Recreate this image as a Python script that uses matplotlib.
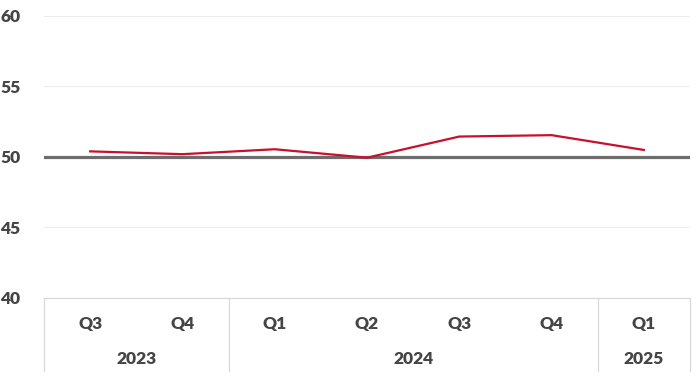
import matplotlib.pyplot as plt
import matplotlib.transforms as mtransforms

quarters = ['Q3', 'Q4', 'Q1', 'Q2', 'Q3', 'Q4', 'Q1']
years = ['2023', '2024', '2025']
year_spans = [(0, 1), (2, 5), (6, 6)]
values = [50.4, 50.2, 50.55, 49.95, 51.45, 51.55, 50.5]
yticks = [40, 45, 50, 55, 60]

plt.rcParams['font.family'] = ['Lato', 'DejaVu Sans']
txt_color = '#454545'
fs = 12.5

fig = plt.figure(figsize=(7, 3.77), dpi=100)
ax = fig.add_axes([44 / 700, 79 / 377, 646 / 700, 282 / 377])

x = list(range(len(values)))

# grid lines
for y in [45, 55, 60]:
    ax.axhline(y, color='#ededed', lw=0.8, zorder=1)
ax.axhline(50, color='#6d6d6d', lw=2.3, zorder=2)

ax.plot(x, values, color='#c8102e', lw=1.6, zorder=3)

ax.set_xlim(-0.5, len(values) - 0.5)
ax.set_ylim(40, 60)
ax.set_yticks(yticks)
ax.set_yticklabels([str(v) for v in yticks], fontsize=fs, fontweight='heavy', color=txt_color)
ax.tick_params(axis='y', length=0, pad=17)
ax.set_xticks([])

for s in ['top', 'right', 'left']:
    ax.spines[s].set_visible(False)
ax.spines['bottom'].set_color('#d9d9d9')
ax.spines['bottom'].set_linewidth(0.9)

trans = mtransforms.blended_transform_factory(ax.transData, ax.transAxes)

# quarter labels
for i, q in enumerate(quarters):
    ax.text(i, -0.092, q, transform=trans, ha='center', va='center',
            fontsize=fs, fontweight='heavy', color=txt_color)

# year labels and separators
for yr, (a, b) in zip(years, year_spans):
    ax.text((a + b) / 2, -0.218, yr, transform=trans, ha='center', va='center',
            fontsize=fs, fontweight='heavy', color=txt_color)
seps = [-0.5] + [b + 0.5 for a, b in year_spans]
for sx in seps:
    ax.plot([sx, sx], [0, -0.26], transform=trans, color='#d9d9d9', lw=0.9, clip_on=False)

fig.savefig('out.png', dpi=100)
